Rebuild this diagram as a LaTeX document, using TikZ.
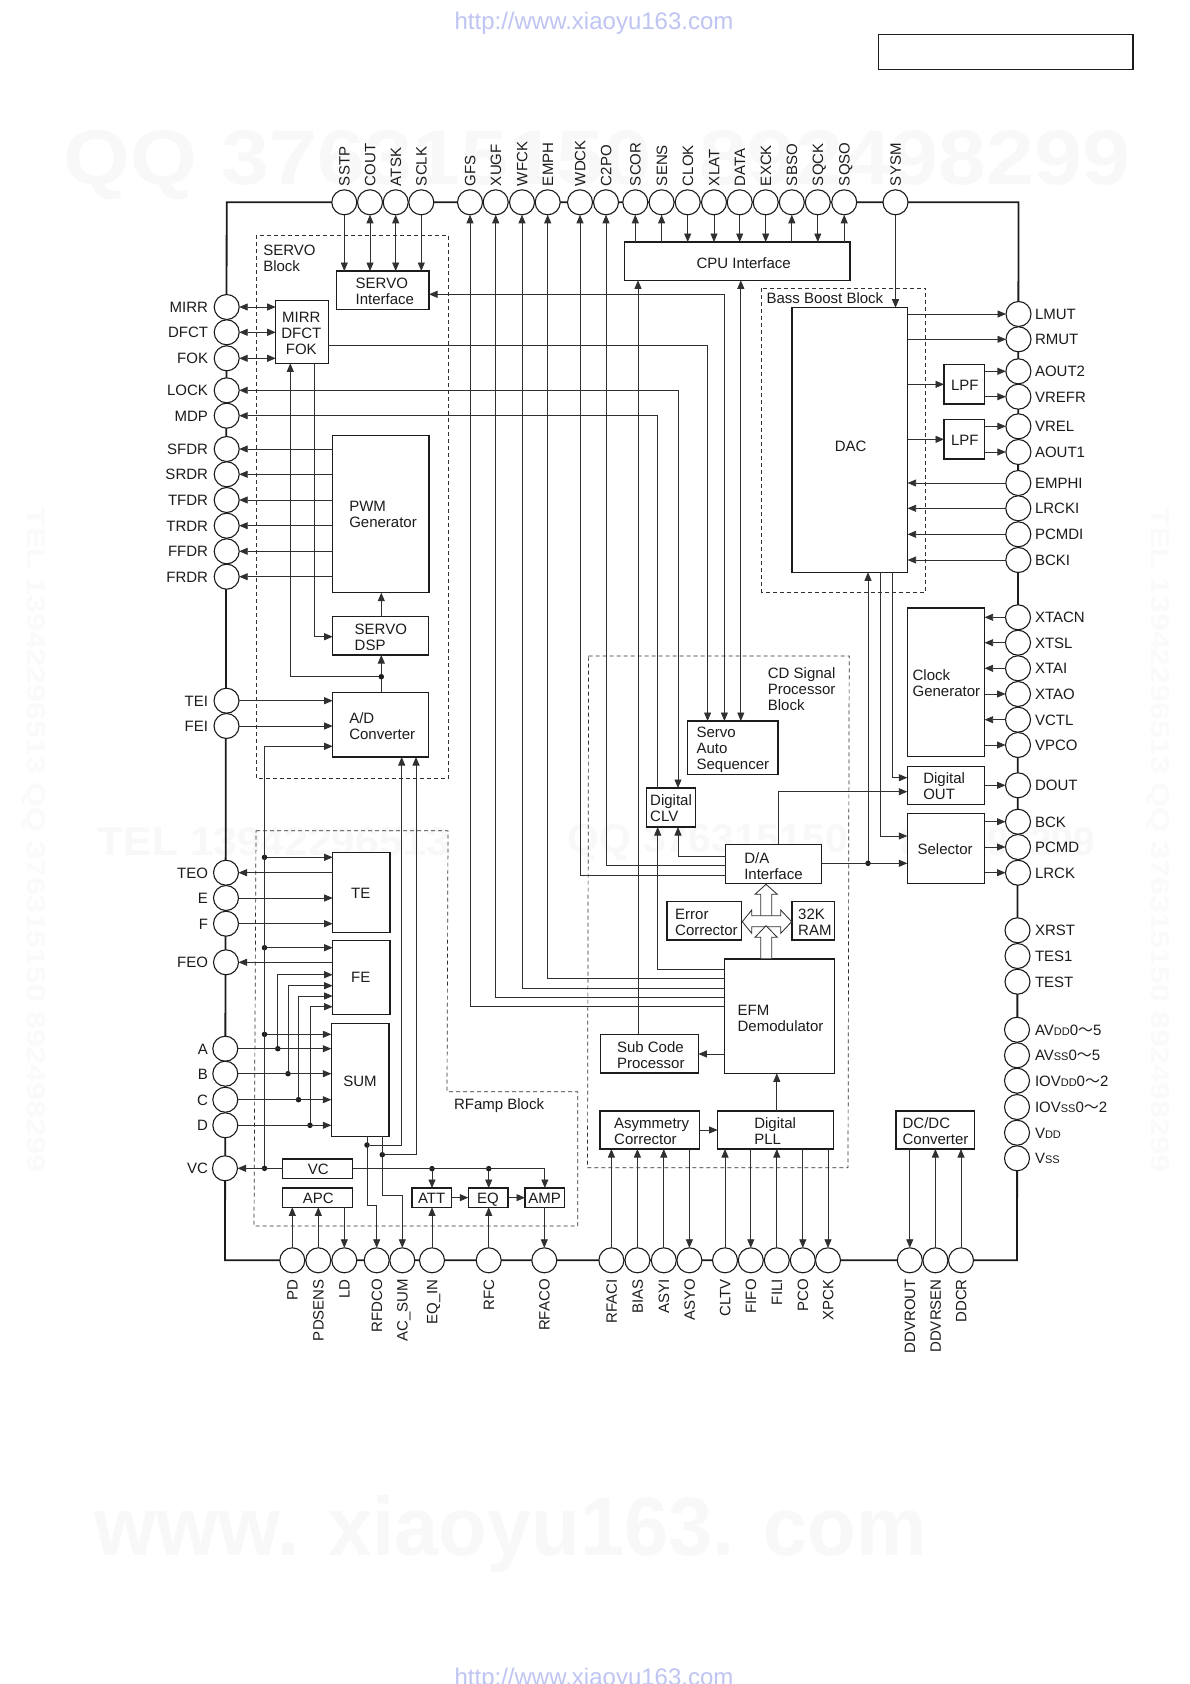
\documentclass[tikz,border=0pt]{standalone}
\usepackage{fontspec}
\usepackage{graphicx}
\usetikzlibrary{arrows.meta}
\setmainfont{Liberation Sans}
\newfontfamily\cjk{Noto Sans CJK SC}
\newcommand\sm[1]{{\fontsize{11}{12}\selectfont #1}}
\newcommand\tl{{\cjk ～}}
\definecolor{ink}{HTML}{1C1C1C}
\definecolor{wire}{HTML}{303030}
\definecolor{wm}{HTML}{F8F8F8}
\definecolor{wmside}{HTML}{FAFAFA}
\definecolor{urlc}{HTML}{BFC4F2}
\tikzset{
  every node/.style={inner sep=0pt,outer sep=0pt,text=ink,font=\fontsize{15}{16}\selectfont},
  >={Triangle[length=8.5pt,width=7pt]},
  boxs/.style={draw=ink,fill=white,line width=1.4pt,rectangle},
  pinc/.style={draw=ink,fill=white,line width=1.1pt,circle,minimum size=25pt},
  sig/.style={draw=wire,line width=.8pt},
  frameline/.style={draw=ink,line width=1.8pt},
  blockline/.style={draw=wire,line width=.7pt,dash pattern=on 4pt off 3pt},
  jdot/.style={circle,fill=ink,minimum size=5.5pt},
  hollow/.style={draw=wire,fill=white,line width=.85pt},
  wmark/.style={text=wm,font=\fontsize{20}{24}\selectfont\bfseries},
}
\newcommand\bxl[8]{%
  \pgfmathsetlengthmacro\bw{#4-#2}\pgfmathsetlengthmacro\bh{#5-#3}%
  \pgfmathsetlengthmacro\tdx{#6-(#2+#4)/2}\pgfmathsetlengthmacro\tdy{(#3+#5)/2-#7-.4}%
  \node[boxs,minimum width=\bw,minimum height=\bh] (#1) at ({(#2+#4)/2},{(#3+#5)/2})
    {\makebox[0pt][l]{\hspace*{\tdx}\raisebox{\tdy}[0pt][0pt]{\begin{tabular}[t]{@{}l@{}}#8\end{tabular}}}};}
\newcommand\bxc[8]{%
  \pgfmathsetlengthmacro\bw{#4-#2}\pgfmathsetlengthmacro\bh{#5-#3}%
  \pgfmathsetlengthmacro\tdx{#6-(#2+#4)/2}\pgfmathsetlengthmacro\tdy{(#3+#5)/2-#7-.4}%
  \node[boxs,minimum width=\bw,minimum height=\bh] (#1) at ({(#2+#4)/2},{(#3+#5)/2})
    {\makebox[0pt][l]{\hspace*{\tdx}\makebox[0pt][c]{\raisebox{\tdy}[0pt][0pt]{\begin{tabular}[t]{@{}c@{}}#8\end{tabular}}}}};}
\newcommand\blabel[4]{\node[anchor=base west] (#1) at (#2,#3+.4) {\begin{tabular}[t]{@{}l@{}}#4\end{tabular}};}
\begin{document}
\begin{tikzpicture}[x=1pt,y=-1pt]
\useasboundingbox (0,0) rectangle (1190,1684);
\fill[white] (0,0) rectangle (1190,1684);
% watermarks
\node[wmark] (wmA) at (597,165) {\resizebox{1066pt}{54pt}{QQ 376315150\ \ 892498299}};
\node[wmark] (wmB) at (274,842) {\resizebox{352pt}{28pt}{TEL 13942296513}};
\node[wmark] (wmC) at (708,842) {\resizebox{280pt}{28pt}{QQ 376315150}};
\node[wmark] (wmD) at (998,842) {\resizebox{194pt}{28pt}{892498299}};
\node[wmark] (wmE) at (511,1534) {\resizebox{832pt}{60pt}{www. xiaoyu163. com}};
\node[wmark,text=wmside,rotate=-90] (wmF) at (34,840) {\resizebox{664pt}{18pt}{TEL 13942296513 QQ 376315150 892498299}};
\node[wmark,text=wmside,rotate=-90] (wmG) at (1158,840) {\resizebox{664pt}{18pt}{TEL 13942296513 QQ 376315150 892498299}};
\node[anchor=base,text=urlc,font=\fontsize{24}{28}\selectfont] (urlA) at (594,29) {http://www.xiaoyu163.com};
\node[anchor=base,text=urlc,font=\fontsize{24}{28}\selectfont] (urlB) at (594,1685) {http://www.xiaoyu163.com};
\node[draw=ink,line width=1.2pt,rectangle,minimum width=254.5pt,minimum height=35pt] (corner) at (1005.7,52) {};
% chip outline
\draw[frameline] (226.7,202.3) -- (1018.5,202.3) -- (1017,1260.3) -- (225,1260.3) -- cycle;
% dashed blocks
\draw[blockline] (256,235) rectangle (448.3,778.3);
\draw[blockline] (256,830.7) -- (448,830.7) -- (447,1091.7) -- (577.7,1091.7) -- (577.7,1226) -- (254,1226) -- cycle;
\draw[blockline] (761.8,288) rectangle (925.8,592);
\draw[blockline] (588.6,656) -- (849.2,656) -- (848,1167.7) -- (587.5,1167.7) -- cycle;
\blabel{lbServo}{263.3}{254.7}{SERVO\\Block}
\blabel{lbRF}{454}{1108.7}{RFamp Block}
\blabel{lbBass}{766.5}{302.7}{Bass Boost Block}
\blabel{lbCD}{767.9}{677.7}{CD Signal\\Processor\\Block}
% pins: left
\foreach \n/\x/\y/\t in {MIRR/226.7/307/MIRR,DFCT/226.7/332.3/DFCT,FOK/226.7/358.3/FOK,LOCK/226.7/390.3/LOCK,MDP/226.7/415.7/MDP,SFDR/226.7/449/SFDR,SRDR/226.7/474.3/SRDR,TFDR/226.7/500/TFDR,TRDR/226.7/525.7/TRDR,FFDR/226.7/551.3/FFDR,FRDR/226.7/576.7/FRDR,TEI/226.5/700.7/TEI,FEI/226.5/726/FEI,TEO/226/872.7/TEO,E/226/898/E,F/226/923.7/F,FEO/226/962.3/FEO,A/225.3/1048.7/A,B/225.3/1073.7/B,C/225.3/1099.7/C,D/225.3/1125.3/D,VC/225/1168.3/VC}{
  \node[pinc] (p\n) at (\x,\y) {};
  \node[anchor=base east] (l\n) at (208,\y+5.4) {\t};
}
% pins: right
\foreach \n/\x/\y/\t in {LMUT/1018.5/314/LMUT,RMUT/1018.5/339.3/RMUT,AOUT2/1018.4/371.3/AOUT2,VREFR/1018.4/396.7/VREFR,VREL/1018.4/426.3/VREL,AOUT1/1018.4/452/AOUT1,EMPHI/1018.3/483/EMPHI,LRCKI/1018.3/508.3/LRCKI,PCMDI/1018.3/534.3/PCMDI,BCKI/1018.3/560/BCKI,XTACN/1018/617.3/XTACN,XTSL/1018/642.7/XTSL,XTAI/1018/668.3/XTAI,XTAO/1018/694/XTAO,VCTL/1018/719.7/VCTL,VPCO/1018/745/VPCO,DOUT/1018/785.3/DOUT,BCK/1018/821.7/BCK,PCMD/1018/847/PCMD,LRCK/1018/872.7/LRCK,XRST/1017.5/930.3/XRST,TESA/1017.5/956/TES1,TEST/1017.5/981.7/TEST,AVDD/1017/1029.7/AV\sm{DD}0\tl 5,AVSS/1017/1055.3/AV\sm{SS}0\tl 5,IOVDD/1017/1080.7/IOV\sm{DD}0\tl 2,IOVSS/1017/1107/IOV\sm{SS}0\tl 2,VDD/1017/1132.7/V\sm{DD},VSS/1017/1158.3/V\sm{SS}}{
  \node[pinc] (p\n) at (\x,\y) {};
  \node[anchor=base west] (l\n) at (1035,\y+5.4) {\t};
}
% pins: top
\foreach \n/\x in {SSTP/344.3,COUT/370,ATSK/395.7,SCLK/421.3,GFS/470,XUGF/495.7,WFCK/522,EMPH/547.7,WDCK/580,C2PO/606,SCOR/635.3,SENS/661.6,CLOK/687.7,XLAT/714,DATA/739.7,EXCK/765.7,SBSO/791.8,SQCK/817.8,SQSO/844.2,SYSM/895.5}{
  \node[pinc] (p\n) at (\x,202.3) {};
  \node[anchor=base west,rotate=90] (l\n) at (\x+5.4,186) {\n};
}
% pins: bottom
\foreach \n/\x/\t in {PD/292.3/PD,PDSENS/318.3/PDSENS,LD/344.3/LD,RFDCO/376.7/RFDCO,ACSUM/402.3/AC\_SUM,EQIN/432/EQ\_IN,RFC/488.7/RFC,RFACO/544.3/RFACO,RFACI/611.4/RFACI,BIAS/637.4/BIAS,ASYI/663.8/ASYI,ASYO/689.4/ASYO,CLTV/725/CLTV,FIFO/750.8/FIFO,FILI/776.8/FILI,PCO/802.8/PCO,XPCK/828/XPCK,DDVROUT/909.8/DDVROUT,DDVRSEN/935.4/DDVRSEN,DDCR/961/DDCR}{
  \node[pinc] (p\n) at (\x,1260.3) {};
  \node[anchor=base east,rotate=90] (l\n) at (\x+5.4,1279.3) {\t};
}
% boxes
\bxl{bServoIf}{336.7}{271}{429}{309.3}{355.7}{288}{SERVO\\Interface}
\bxc{bMirr}{275.7}{300.7}{328.3}{363.3}{301.3}{322}{MIRR\\DFCT\\FOK}
\bxl{bPWM}{332.7}{435.7}{429}{592.7}{349.3}{511}{PWM\\Generator}
\bxl{bDSP}{332.7}{616.7}{428.7}{655}{354.7}{634}{SERVO\\DSP}
\bxl{bAD}{332.7}{692.3}{428.7}{757}{349.3}{723.3}{A/D\\Converter}
\bxc{bTE}{332.7}{852.7}{390}{932.7}{360.7}{897.7}{TE}
\bxc{bFE}{332.7}{940.7}{390}{1014.7}{360.7}{981.7}{FE}
\bxc{bSUM}{331.3}{1023.3}{389}{1136.3}{360}{1086}{SUM}
\bxc{bVC}{282.7}{1159}{352.7}{1178.3}{318.3}{1174}{VC}
\bxc{bAPC}{282.7}{1188}{352.7}{1207.3}{318.3}{1203.3}{APC}
\bxc{bATT}{412}{1188}{451.3}{1207.3}{431.7}{1203.3}{ATT}
\bxc{bEQ}{468.3}{1188}{508}{1207.3}{488}{1203.3}{EQ}
\bxc{bAMP}{525}{1188}{564.7}{1207.3}{544.7}{1203.3}{AMP}
\bxl{bCPU}{624.6}{242}{849.9}{280.3}{696.6}{267.7}{CPU Interface}
\bxl{bDAC}{792.1}{307.7}{907.6}{572.3}{834.9}{450.7}{DAC}
\bxl{bLPFa}{944}{364.7}{984.6}{404}{951}{389.7}{LPF}
\bxl{bLPFb}{944}{419.7}{984.6}{459}{951}{445}{LPF}
\bxl{bClock}{907.3}{608}{984.6}{756.7}{912.6}{680.3}{Clock\\Generator}
\bxl{bOut}{907.3}{766.7}{984.6}{804.3}{923.3}{783.3}{Digital\\OUT}
\bxl{bSel}{907.3}{813.3}{984.6}{883.3}{917.6}{853.7}{Selector}
\bxl{bAuto}{687.7}{721}{777.9}{774.3}{696.6}{736.7}{Servo\\Auto\\Sequencer}
\bxl{bCLV}{646.3}{788}{695.2}{827}{650.2}{804.7}{Digital\\CLV}
\bxl{bDA}{725.5}{844.3}{821.7}{883.7}{744.3}{862.7}{D/A\\Interface}
\bxl{bErr}{667}{901.7}{741.5}{940}{675.2}{918.7}{Error\\Corrector}
\bxl{bRAM}{791.8}{901.7}{834.5}{940}{798.2}{918.7}{32K\\RAM}
\bxl{bEFM}{724.7}{959}{834.5}{1073.3}{737.6}{1015}{EFM\\Demodulator}
\bxl{bSub}{600.7}{1034.7}{698.4}{1073}{617}{1051.7}{Sub Code\\Processor}
\bxl{bAsym}{600}{1111}{699.4}{1149}{614.2}{1128.3}{Asymmetry\\Corrector}
\bxl{bPLL}{717.6}{1111}{833.5}{1149}{754.3}{1128.3}{Digital\\PLL}
\bxl{bDCDC}{895.9}{1111}{974.3}{1149}{902.6}{1128.3}{DC/DC\\Converter}
% junction dots
\node[jdot] (dAD) at (381.3,676.7) {};
\node[jdot] (dTE) at (264.5,857.3) {};
\node[jdot] (dFE) at (264.5,947.7) {};
\node[jdot] (dSUM) at (264.5,1034.3) {};
\node[jdot] (dVC) at (264.5,1168.3) {};
\node[jdot] (dA) at (277.8,1048.7) {};
\node[jdot] (dB) at (288,1073.7) {};
\node[jdot] (dC) at (298.5,1099.7) {};
\node[jdot] (dD) at (310,1125.3) {};
\node[jdot] (dSa) at (367,1145) {};
\node[jdot] (dSb) at (382.3,1154.7) {};
\node[jdot] (dVa) at (432,1168.65) {};
\node[jdot] (dVb) at (488.7,1168.65) {};
\node[jdot] (dDA) at (868,863.3) {};
% top pins
\draw[sig,->] (pSSTP) -- (pSSTP |- bServoIf.north);
\draw[sig,<->] (pCOUT) -- (pCOUT |- bServoIf.north);
\draw[sig,<->] (pATSK) -- (pATSK |- bServoIf.north);
\draw[sig,->] (pSCLK) -- (pSCLK |- bServoIf.north);
\draw[sig,<-] (pGFS) |- (bEFM.west |- 0,1006);
\draw[sig,<-] (pXUGF) |- (bEFM.west |- 0,997.3);
\draw[sig,<-] (pWFCK) |- (bEFM.west |- 0,988);
\draw[sig,<-] (pEMPH) |- (bEFM.west |- 0,978);
\draw[sig,<-] (pWDCK) |- (bDA.west |- 0,875);
\draw[sig,<-] (pC2PO) |- (bDA.west |- 0,865.7);
\foreach \n in {SCOR,SENS,SBSO,SQSO} {\draw[sig,<-] (p\n) -- (p\n |- bCPU.north);}
\foreach \n in {CLOK,XLAT,DATA,EXCK,SQCK} {\draw[sig,->] (p\n) -- (p\n |- bCPU.north);}
\draw[sig,->] (pSYSM) -- (pSYSM |- bDAC.north);
% CPU and servo routing
\draw[sig,->] (bMirr.east |- 0,345) -| (707.6,0 |- bAuto.north);
\draw[sig,<->] (bServoIf.east |- 0,294.3) -| (724.4,0 |- bAuto.north);
\draw[sig,<->] (740.8,0 |- bCPU.south) -- (740.8,0 |- bAuto.north);
\draw[sig,<->] (pLOCK) -| (678,0 |- bCLV.north);
\draw[sig,->] (657.7,0 |- bCLV.north) |- (pMDP);
\draw[sig,->] (638,0 |- bSub.north) -- (638,0 |- bCPU.south);
\draw[sig,->] (bDA.west |- 0,856) -| (678,0 |- bCLV.south);
\draw[sig,->] (bEFM.west |- 0,969) -| (657.7,0 |- bCLV.south);
\draw[sig,->] (bDA.east |- dDA) -- (bSel.west |- dDA);
\draw[sig,->] (dDA) -- (dDA |- bDAC.south);
\draw[sig,->] (777.9,0 |- bDA.north) |- (bOut.west |- 0,791.7);
\draw[sig,->] (880.5,0 |- bDAC.south) |- (bSel.west |- 0,836);
\draw[sig,->] (892,0 |- bDAC.south) |- (bOut.west |- 0,777.7);
% left pins
\foreach \n in {MIRR,DFCT,FOK} {\draw[sig,<->] (p\n) -- (p\n -| bMirr.west);}
\foreach \n in {SFDR,SRDR,TFDR,TRDR,FFDR,FRDR} {\draw[sig,->] (bPWM.west |- p\n) -- (p\n);}
\foreach \n in {TEI,FEI} {\draw[sig,->] (p\n) -- (p\n -| bAD.west);}
\foreach \n in {E,F} {\draw[sig,->] (p\n) -- (p\n -| bTE.west);}
\foreach \n in {A,B,C,D} {\draw[sig,->] (p\n) -- (p\n -| bSUM.west);}
\draw[sig,->] (bTE.west |- pTEO) -- (pTEO);
\draw[sig,->] (bFE.west |- pFEO) -- (pFEO);
\draw[sig,->] (bVC.west |- pVC) -- (pVC);
% servo internals
\draw[sig] (381.3,0 |- bAD.north) -- (dAD);
\draw[sig,->] (dAD) -- (381.3,0 |- bDSP.south);
\draw[sig,->] (381.3,0 |- bDSP.north) -- (381.3,0 |- bPWM.south);
\draw[sig,->] (dAD) -| (290.3,0 |- bMirr.south);
\draw[sig,->] (314,0 |- bMirr.south) |- (bDSP.west |- 0,636.7);
% left bus and RF block
\draw[sig,->] (dVC) |- (bAD.west |- 0,746.3);
\draw[sig,->] (dTE) -- (dTE -| bTE.west);
\draw[sig,->] (dFE) -- (dFE -| bFE.west);
\draw[sig,->] (dSUM) -- (dSUM -| bSUM.west);
\draw[sig,->] (dA) |- (bFE.west |- 0,974.7);
\draw[sig,->] (dB) |- (bFE.west |- 0,985.7);
\draw[sig,->] (dC) |- (bFE.west |- 0,996);
\draw[sig,->] (dD) |- (bFE.west |- 0,1006.7);
\draw[sig,->] (dSa |- bSUM.south) |- (pRFDCO |- 0,1205.7) -- (pRFDCO);
\draw[sig,->] (dSb |- bSUM.south) |- (pACSUM |- 0,1195.7) -- (pACSUM);
\draw[sig,->] (dSa) -| (401.7,0 |- bAD.south);
\draw[sig,->] (dSb) -| (416,0 |- bAD.south);
\draw[sig,->] (bVC.east) -| (bAMP.north);
\draw[sig,->] (dVa) -- (dVa |- bATT.north);
\draw[sig,->] (dVb) -- (dVb |- bEQ.north);
\draw[sig,->] (bATT.east) -- (bEQ.west);
\draw[sig,->] (bEQ.east) -- (bAMP.west);
\draw[sig,->] (pEQIN) -- (pEQIN |- bATT.south);
\draw[sig,->] (pRFC) -- (pRFC |- bEQ.south);
\draw[sig,->] (pRFACO |- bAMP.south) -- (pRFACO);
\draw[sig,->] (pPD) -- (pPD |- bAPC.south);
\draw[sig,->] (pPDSENS) -- (pPDSENS |- bAPC.south);
\draw[sig,->] (pLD |- bAPC.south) -- (pLD);
% bottom right
\foreach \n in {RFACI,BIAS,ASYI} {\draw[sig,->] (p\n) -- (p\n |- bAsym.south);}
\draw[sig,->] (pASYO |- bAsym.south) -- (pASYO);
\foreach \n in {CLTV,FILI} {\draw[sig,->] (p\n) -- (p\n |- bPLL.south);}
\foreach \n in {FIFO,PCO,XPCK} {\draw[sig,->] (p\n |- bPLL.south) -- (p\n);}
\draw[sig,->] (pDDVROUT |- bDCDC.south) -- (pDDVROUT);
\foreach \n in {DDVRSEN,DDCR} {\draw[sig,->] (p\n) -- (p\n |- bDCDC.south);}
\draw[sig,->] (bAsym.east) -- (bPLL.west);
\draw[sig,->] (pFILI |- bPLL.north) -- (pFILI |- bEFM.south);
\draw[sig,->] (bEFM.west |- 0,1054) -- (bSub.east |- 0,1054);
% right pins
\foreach \n in {LMUT,RMUT} {\draw[sig,->] (bDAC.east |- p\n) -- (p\n);}
\draw[sig,->] (bDAC.east |- bLPFa) -- (bLPFa.west);
\draw[sig,->] (bDAC.east |- bLPFb) -- (bLPFb.west);
\foreach \n in {AOUT2,VREFR} {\draw[sig,->] (bLPFa.east |- p\n) -- (p\n);}
\foreach \n in {VREL,AOUT1} {\draw[sig,->] (bLPFb.east |- p\n) -- (p\n);}
\foreach \n in {EMPHI,LRCKI,PCMDI,BCKI} {\draw[sig,->] (p\n) -- (p\n -| bDAC.east);}
\foreach \n in {XTACN,XTSL,XTAI,VCTL} {\draw[sig,->] (p\n) -- (p\n -| bClock.east);}
\foreach \n in {XTAO,VPCO} {\draw[sig,->] (bClock.east |- p\n) -- (p\n);}
\draw[sig,->] (bOut.east |- pDOUT) -- (pDOUT);
\foreach \n in {BCK,PCMD,LRCK} {\draw[sig,->] (bSel.east |- p\n) -- (p\n);}
% hollow bus arrows
\draw[hollow] (760.7,917) -- (760.7,894.3) -- (755,894.3) -- (766,884.3) -- (777.3,894.3) -- (771.7,894.3) -- (771.7,917);
\draw[hollow] (742.3,921.7) -- (751.7,910) -- (751.7,915.7) -- (780.7,915.7) -- (780.7,910) -- (791.7,921.7) -- (780.7,933.3) -- (780.7,926.7) -- (751.7,926.7) -- (751.7,933.3) -- cycle;
\draw[hollow] (760.7,958.3) -- (760.7,937.3) -- (755,937.3) -- (766,925.7) -- (777.3,937.3) -- (771.7,937.3) -- (771.7,958.3);
\end{tikzpicture}
\end{document}
